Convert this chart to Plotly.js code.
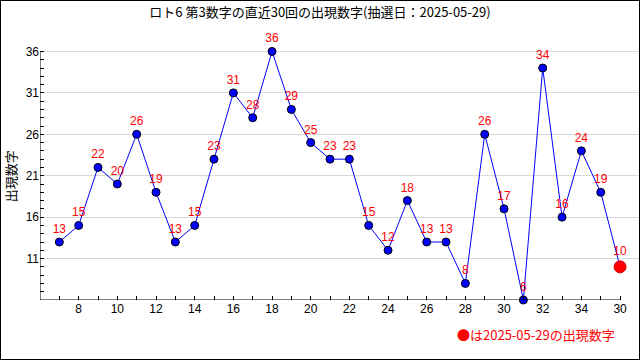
<!DOCTYPE html>
<html>
<head>
<meta charset="utf-8">
<script src="https://cdn.plot.ly/plotly-3.0.1.min.js"></script>
<style>
html,body{margin:0;padding:0;background:#fff;}
#frame{width:640px;height:360px;box-sizing:border-box;border:1px solid #000;}
#chart{width:638px;height:358px;}
</style>
</head>
<body>
<div id="frame"><div id="chart"></div></div>
<script>
// draw index (x) and drawn number (y)
const drawIndex = [7,8,9,10,11,12,13,14,15,16,17,18,19,20,21,22,23,24,25,26,27,28,29,30,31,32,33,34,35,36];
const numbers   = [13,15,22,20,26,19,13,15,23,31,28,36,29,25,23,23,15,12,18,13,13,8,26,17,6,34,16,24,19,10];
const xTickVals = [8,10,12,14,16,18,20,22,24,26,28,30,32,34,36];
const xTickText = ['8','10','12','14','16','18','20','22','24','26','28','30','32','34','30'];
const yTickVals = [11,16,21,26,31,36];
const titleText = 'ロト6 第3数字の直近30回の出現数字(抽選日：2025-05-29)';
const yTitle = '出現数字';
const noteText = '●は2025-05-29の出現数字';

const last = numbers.length - 1;
const mColors = numbers.map((v,i)=> i===last ? '#ff0000' : '#0000ff');
const mSizes = numbers.map((v,i)=> i===last ? 12 : 8);
const mLine = numbers.map((v,i)=> i===last ? '#cc0000' : '#000000');

const fontJP = 'Noto Sans CJK JP, sans-serif';
const fontTick = 'Liberation Sans, Arial, sans-serif';

const trace = {
  x: drawIndex, y: numbers, type:'scatter', mode:'lines+markers+text',
  line:{color:'#0000ff', width:1},
  marker:{color:mColors, size:mSizes, opacity:1, line:{color:mLine, width:1}},
  text: numbers.map(String), textposition:'top center',
  textfont:{color:'#ff0000', size:12, family:fontTick},
  cliponaxis:false, hoverinfo:'skip'
};

const layout = {
  width:638, height:358,
  margin:{l:39, r:0, t:43, b:59},
  paper_bgcolor:'#fff', plot_bgcolor:'#fff',
  showlegend:false,
  title:{text:titleText, font:{family:fontJP, size:13, color:'#000'}, x:0.5, xref:'container', y:0.967, yref:'container', yanchor:'middle'},
  xaxis:{range:[6,36.98], showline:false, zeroline:false, showgrid:false,
    tickmode:'array', tickvals:xTickVals, ticktext:xTickText,
    ticks:'inside', ticklen:4, tickcolor:'#000', tickwidth:1,
    tickfont:{family:fontTick, size:12, color:'#000'},
    minor:{tickmode:'linear', tick0:0, dtick:1, ticks:'inside', ticklen:4, tickcolor:'#000', tickwidth:1, showgrid:false}},
  yaxis:{range:[6,36.9], showline:false, zeroline:false, showgrid:true, gridcolor:'#d9d9d9', gridwidth:1,
    tickmode:'array', tickvals:yTickVals,
    ticks:'inside', ticklen:4, tickcolor:'#000', tickwidth:1,
    tickfont:{family:fontTick, size:12, color:'#000'},
    minor:{tickmode:'linear', tick0:0, dtick:1, ticks:'inside', ticklen:4, tickcolor:'#000', tickwidth:1, showgrid:false}},
  shapes:[
    {type:'line', xref:'x', yref:'y', x0:6, x1:36, y0:6, y1:6, line:{color:'#000', width:1}, layer:'above'},
    {type:'line', xref:'x', yref:'y', x0:6, x1:6, y0:6, y1:36, line:{color:'#000', width:1}, layer:'above'}
  ],
  annotations:[
    {text:yTitle, textangle:-90, xref:'paper', yref:'paper', x:-0.05, y:0.484, xanchor:'center', yanchor:'middle', showarrow:false, font:{family:fontJP, size:13, color:'#000'}},
    {text:noteText, xref:'paper', yref:'paper', x:0.964, y:-0.133, xanchor:'right', yanchor:'middle', showarrow:false, font:{family:fontJP, size:13, color:'#ff0000'}}
  ]
};

Plotly.newPlot('chart', [trace], layout, {staticPlot:true, displayModeBar:false});
</script>
</body>
</html>
